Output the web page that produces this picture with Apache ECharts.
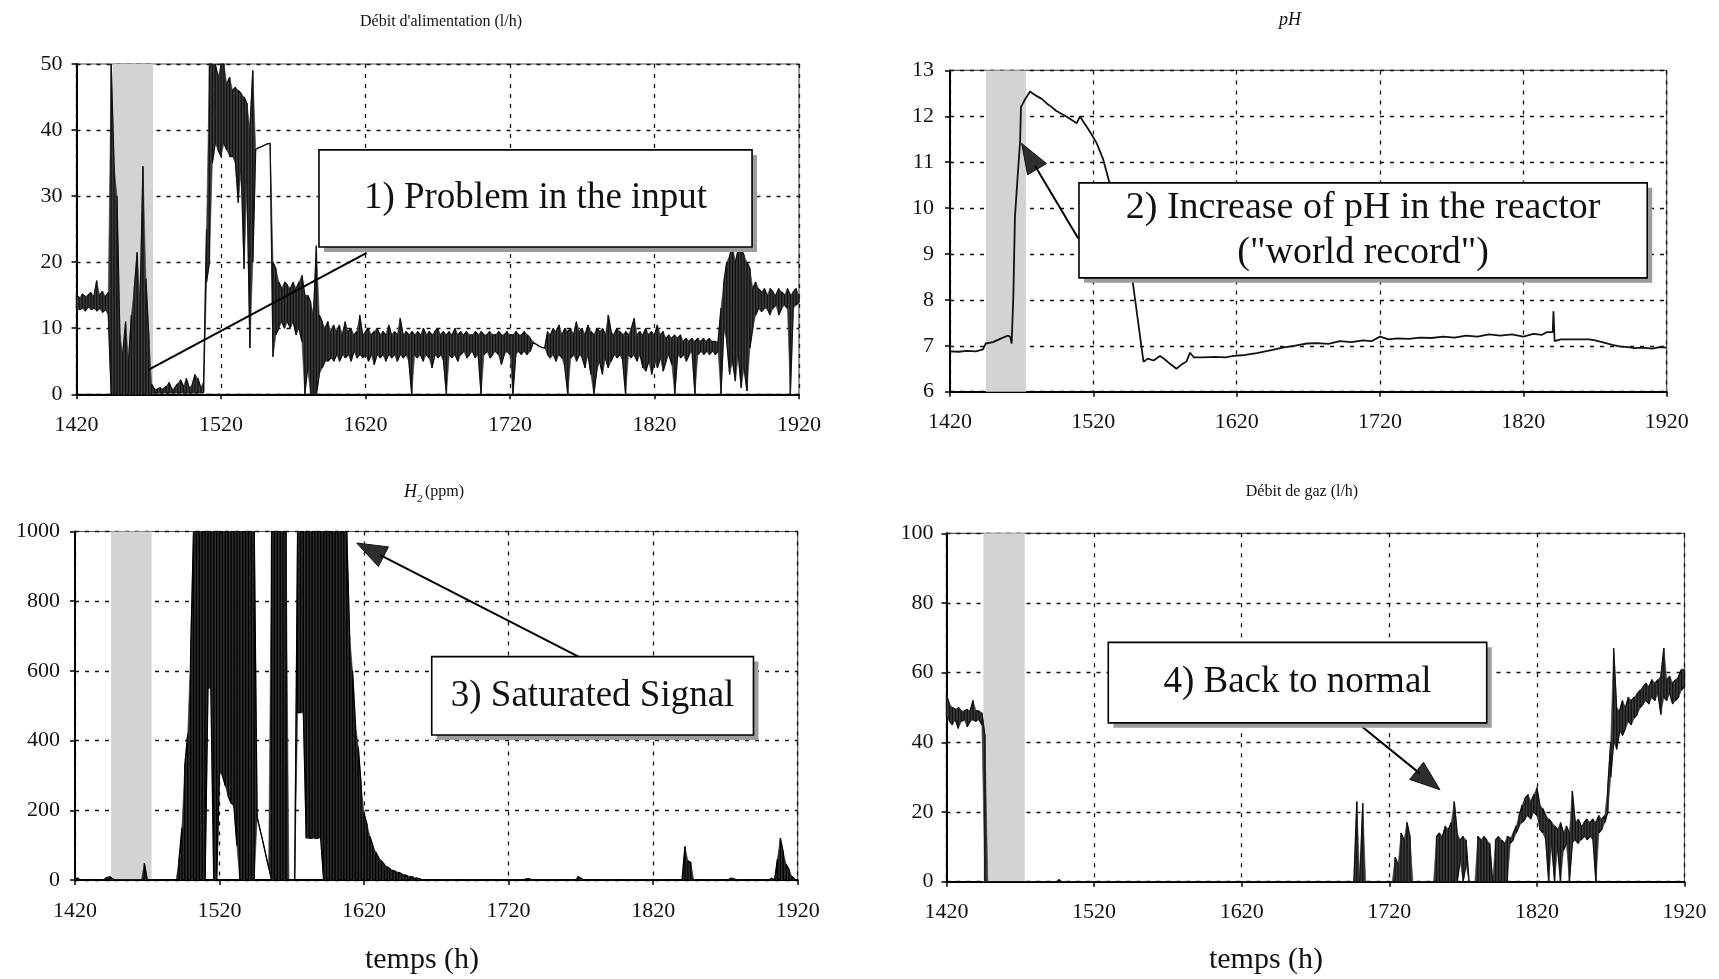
<!DOCTYPE html>
<html><head><meta charset="utf-8">
<script src="https://cdn.jsdelivr.net/npm/echarts@6.0.0/dist/echarts.min.js"></script>
<style>html,body{margin:0;padding:0;background:#fff}#c{width:1719px;height:979px}</style>
</head><body><div id="c"></div><script>
// ---- time base (2-hour samples from 1420 h to 1920 h) ----
const T0 = 1420, STEP = 2;
const xTicks = {min:1420, max:1920, interval:100};
const bandStart = 1445, bandEnd = 1473;

// ---- Débit d'alimentation (l/h): low / high envelope of the noisy signal ----
const feedLo = [
13,12.8,13,12.6,13.2,12.8,13,12.6,13,12.4,
12.8,12,0,0,0,0,0,0,0,0,
0,0,0,0,0,0,0,0.2,0.2,0.2,
0.2,0.2,0.2,0.2,0.2,0.2,0.2,0.2,0.2,0.2,
0.2,0.2,0.2,0.2,0.3,17,20,35,38,37,
36,38,37,36,36,35,29,34,19,32,
7,20,37.1,37.3,37.5,37.7,37.9,38,5.7,9,
10,11,10,11,10,11,9,10,8,0,
4,0,0,0,3,4,5,5,5.5,5,
6,5,6,5.5,6,5,6.5,5.5,6,5.5,
6,5,6,4.5,6,5.5,6,5,6,5.5,
6,5,6,5.5,6,5,0,6,5.5,6,
5,6,5.5,4,6,5.5,6,5,0,6,
5.5,6,5,6,6.5,5.5,6,6.5,5.5,6,
0,6,6.5,5.5,6,6.5,6,4.5,6,6.5,
6,0,6,6.5,6,6.5,6,6.5,7.8,7.6,
7.3,7.1,7,6,5.5,6,5,6,5.5,4,
0,5.5,6,5,6,5.5,4,6,3,0,
3.5,5,3,5.5,4,5,6,5.5,6,5,
0,6,5.5,6,5,6,4,3.5,5,3,
5,4,5.5,3.5,5,6,4.5,0,6,5.5,
6,5,6,6.5,0,6,6.5,6,6.5,6,
6.5,6,6.5,0,10,8,3,5,2,6,
1,4,0.5,7,10,12,13,12.5,13,13,
12,13,13.5,12,13,13.5,13,0,13,13.5,
14];
const feedHi = [
15,14.6,15.2,14.8,15,15.4,14.8,17.2,15,15.6,
14.8,15.4,50,34.5,30,9,6,11,5,12,
16,21.5,14,34.5,17.5,9,1.5,0.8,0.8,1,
0.8,1.2,1.8,0.8,1,1.6,2.2,1.2,2.4,1,
1.4,3,2.4,1,2,25,50,50,50,48,
50,50,47,48,46,46.5,46,45.5,45,44,
40,49,37.1,37.3,37.5,37.7,37.9,38,20,19,
17,16,17,16.5,16,17,16,17,18,15,
15,14,12,22.5,12,11,10,11,9.5,10.5,
9.5,10.5,9,11,9.5,10,9,9.5,12,9,
9.5,10,9,9.5,10,9,9.5,9,10.5,9,
9.5,9,11.5,9,9.5,9,9.5,9,9.5,9,
10,9,9.5,9,9.5,10,9,9.5,9,9.5,
9,10,9,9.5,9,9.5,9,9,9.5,9,
9.5,9,9,9.5,9,9,9.5,9,9,9.5,
9,9,9.5,9,9,9.5,9,8.5,8,7.6,
7.3,7.1,7,9.5,9,10,9.5,10.5,9,10,
9.5,10,9,11,9.5,10,9,10.5,9.5,9,
10,9.5,10,9,12,9.5,9,10,9.5,9,
9.5,9,10,11.5,9,9.5,9,10,9,9.5,
9,10.5,9,9.5,8.5,9,8.5,9,8.5,9,
8,8.5,8,8.5,8,8.5,8,8.5,8,8.5,
8,8,8,13,17,20,21,22.5,20,22,
22,21,20,19,16,17,16,15.5,16,15,
16,15.5,15,16,15.5,15,16,15,15.5,16,
15];

// ---- pH (smooth signal, read point by point) ----
const phT = [1420,1426,1432,1438,1443,1445,1450,1455,1460,1462,1463,1464.2,1465.3,1467,1468.9,
1469.5,1472,1475.8,1480,1484,1487.5,1491,1494,1498,1501.4,1505,1508.4,1510.7,1513,1515.4,
1518.5,1522.4,1527,1531.7,1540,1547,1555,1558,1562,1566.5,1570,1573,1576,1578,1581,
1585,1587.5,1590,1596,1605,1612,1618,1626,1634,1645,1652,1660,1669,1676,1684,
1692,1700,1708,1714,1720,1726,1732,1740,1748,1756,1764,1772,1780,1788,1796,
1804,1812,1820,1827,1833,1836.6,1840.5,1841,1841.8,1846,1852,1860,1866,1870,1875,
1882,1888,1893,1897.6,1903,1910,1915,1920];
const phV = [6.88,6.87,6.89,6.88,6.92,7.05,7.08,7.15,7.22,7.2,7.05,8.1,9.8,10.6,11.45,
12.2,12.35,12.54,12.45,12.38,12.28,12.2,12.12,12.05,11.99,11.92,11.85,12.0,11.88,11.77,
11.62,11.41,11.05,10.5,9.3,8.5,6.65,6.72,6.68,6.78,6.7,6.62,6.55,6.5,6.58,
6.66,6.85,6.75,6.75,6.76,6.75,6.78,6.8,6.84,6.91,6.96,7.0,7.05,7.06,7.04,
7.1,7.08,7.12,7.1,7.2,7.14,7.16,7.15,7.18,7.17,7.2,7.18,7.22,7.2,7.25,
7.22,7.25,7.2,7.26,7.24,7.3,7.3,7.75,7.1,7.14,7.14,7.14,7.14,7.12,7.08,
7.02,6.98,6.97,6.95,6.96,6.94,6.97,6.96];

// ---- H2 (ppm): low / high envelope ----
const h2Lo = [
0,0,0,0,0,0,0,0,0,0,
0,0,0,0,0,0,0,0,0,0,
0,0,0,0,0,0,0,0,0,0,
0,0,0,0,0,0,0,0,0,0,
0,0,0,0,0,0,550,550,0,0,
310,300,270,240,220,210,100,0,0,0,
0,0,0,180,145,110,72,36,0,0,
0,0,0,0,0,0,0,480,480,480,
120,120,120,120,120,120,0,0,0,0,
0,0,0,0,0,0,0,0,0,0,
0,0,0,0,0,0,0,0,0,0,
0,0,0,0,0,0,0,0,0,0,
0,0,0,0,0,0,0,0,0,0,
0,0,0,0,0,0,0,0,0,0,
0,0,0,0,0,0,0,0,0,0,
0,0,0,0,0,0,0,0,0,0,
0,0,0,0,0,0,0,0,0,0,
0,0,0,0,0,0,0,0,0,0,
0,0,0,0,0,0,0,0,0,0,
0,0,0,0,0,0,0,0,0,0,
0,0,0,0,0,0,0,0,0,0,
0,0,0,0,0,0,0,0,0,0,
0,0,0,0,0,0,0,0,0,0,
0,0,0,0,0,0,0,0,0,0,
0,0,0,0,0,0,0,0,0,0,
0];
const h2Hi = [
5,6,1,1,1,1,1,1,1,1,
1,8,10,3,0.5,0.5,0.5,0.5,0.5,0.5,
0.5,0.5,0.5,0.5,48,0.5,0.5,0.5,0.5,0.5,
0.5,0.5,0.5,0.5,0.5,0.5,60,150,330,420,
650,1000,1000,1000,1000,1000,1000,1000,1000,1000,
1000,1000,1000,1000,1000,1000,1000,1000,1000,1000,
1000,1000,1000,180,145,110,72,36,1000,1000,
1000,1000,1000,1000,0,0,0,1000,1000,1000,
1000,1000,1000,1000,1000,1000,1000,1000,1000,1000,
1000,1000,1000,1000,1000,700,600,450,380,270,
190,160,125,100,80,65,55,45,38,32,
28,24,22,18,15,12,10,8,6,4,
2,0.5,0.5,0.5,0.5,0.5,0.5,0.5,0.5,0.5,
0.5,0.5,0.5,0.5,0.5,0.5,0.5,0.5,0.5,0.5,
0.5,0.5,0.5,0.5,0.5,0.5,0.5,0.5,0.5,0.5,
0.5,0.5,0.5,0.5,0.5,0.5,5,4,0.5,0.5,
0.5,0.5,0.5,0.5,0.5,0.5,0.5,0.5,0.5,0.5,
0.5,0.5,0.5,0.5,10,5,0.5,0.5,0.5,0.5,
0.5,0.5,0.5,0.5,0.5,0.5,0.5,0.5,0.5,0.5,
0.5,0.5,0.5,0.5,0.5,0.5,0.5,0.5,0.5,0.5,
0.5,0.5,0.5,0.5,0.5,0.5,0.5,0.5,0.5,0.5,
0.5,96,55,50,0.5,0.5,0.5,0.5,0.5,0.5,
0.5,0.5,0.5,0.5,0.5,0.5,0.5,6,5,0.5,
0.5,0.5,0.5,0.5,0.5,0.5,0.5,0.5,0.5,0.5,
0.5,5,0.5,60,120,80,45,30,10,2,
0];

// ---- Débit de gaz (l/h): low / high envelope ----
const gasLo = [
48,46,45,46.5,44,46,46.5,44.5,46,46.5,
46,46.5,45,0,0,0,0,0,0,0,
0,0,0,0,0,0,0,0,0,0,
0,0,0,0,0,0,0,0,0,0,
0,0,0,0,0,0,0,0,0,0,
0,0,0,0,0,0,0,0,0,0,
0,0,0,0,0,0,0,0,0,0,
0,0,0,0,0,0,0,0,0,0,
0,0,0,0,0,0,0,0,0,0,
0,0,0,0,0,0,0,0,0,0,
0,0,0,0,0,0,0,0,0,0,
0,0,0,0,0,0,0,0,0,0,
0,0,0,0,0,0,0,0,0,0,
0,0,0,0,0,0,0,0,0,0,
0,0,0,0,0,0,0,0,0,0,
0,0,0,0,0,0,0,0,0,0,
0,0,0,0,0,0,0,0,0,0,
0,0,0,0,6,0,5,0,0,0,
0,0,0,0,0,0,0,0,0,0,
0,11,12,14,16,17,18,19,18,20,
19,15,14,12,0,11,0,10,0,9,
11,0,11,12,11,12,13,12,13,12,
0,14,15,17,20,30,40,38,43,42,
44,46,45,47,48,50,51,52,51,53,
52,54,48,53,52,54,51,52,53,55,
56];
const gasHi = [
53.5,51,50,49.5,50,49,49,49.5,49,52,
49,49,48.5,42,0,0,0,0,0,0,
0,0,0,0,0,0,0,0,0,0,
0,0,0,0,0,0,0,0,0.6,0,
0,0,0,0,0,0,0,0,0,0,
0,0,0,0,0,0,0,0,0,0,
0,0,0,0,0,0,0,0,0,0,
0,0,0,0,0,0,0,0,0,0,
0,0,0,0,0,0,0,0,0,0,
0,0,0,0,0,0,0,0,0,0,
0,0,0,0,0,0,0,0,0,0,
0,0,0,0,0,0,0,0,0,0,
0,0,0,0,0,0,0,0,0,0,
0,0,0,0,0,0,0,0,0,23,
0,22.5,0,0,0,0,0,0,0,0,
0,0,7,5,14,12,17,13,0,0,
0,0,0,0,0,0,13,14,13,16,
15,17,23,14,12,13,12,0,0,0,
13,12,13,12,11,0,12,13,12,11,
13,12.5,14,16,19,22,24,25,23,25,
27,22,21,19,18,17,16,15,17,14,
16,14,26,17,18,16,17,18,17,18,
17,19,18,19,27,40,67,50,49,52,
50,53,52,53,54,55,56,57,56,58,
57,58,59,67,58,59,57,58,59,61,
61];

// ---- annotations, anchored in data coordinates ----
const boxes = [
  {g:0, t1:1587.8, t2:1887.5, v1:37.0, v2:22.3, lines:['1) Problem in the input'], fs:37},
  {g:1, t1:1510, t2:1906.4, v1:10.55, v2:8.48, lines:['2) Increase of pH in the reactor','("world record")'], fs:38, lh:45},
  {g:2, t1:1666.8, t2:1889.4, v1:641, v2:416, lines:['3) Saturated Signal'], fs:37},
  {g:3, t1:1529.6, t2:1786, v1:68.7, v2:45.6, lines:['4) Back to normal'], fs:37}
];
const arrows = [
  {g:0, from:[1620.8,21.4], to:[1469.7,3.7], head:false},
  {g:1, from:[1509.5,9.34], to:[1470,11.41], head:true},
  {g:2, from:[1768.3,641], to:[1614.9,967], head:true},
  {g:3, from:[1696.8,46.1], to:[1754.3,26.4], head:true}
];

const FONT = '"Liberation Serif","Times New Roman",Times,serif';
const grids = [
  {left:76.5, top:64, width:722.5, height:330.3},
  {left:950, top:70.4, width:716.7, height:321.3},
  {left:75, top:531.5, width:722.7, height:348.5},
  {left:946.5, top:533.3, width:738, height:348.4}
];
const yCfg = [
  {min:0, max:50, interval:10, margin:14},
  {min:6, max:13, interval:1, margin:16},
  {min:0, max:1000, interval:200, margin:15},
  {min:0, max:100, interval:20, margin:13}
];

// square-wave path through the low/high envelope samples
function envelope(lo, hi){
  const out = [];
  for (let i = 0; i < lo.length; i++){
    const t = T0 + STEP*i;
    if (i % 2 === 0){ out.push([t, lo[i]], [t, hi[i]]); }
    else { out.push([t, hi[i]], [t, lo[i]]); }
  }
  return out;
}
// filled band between the low and high envelopes (drawn through the axes' scales)
function bandSeries(gi, lo, hi, color){
  const data = lo.map((v,i) => [T0+STEP*i, v, hi[i]]);
  return {
    type:'custom', xAxisIndex:gi, yAxisIndex:gi, z:2, silent:true, animation:false, clip:true,
    data:data, encode:{x:0, y:[1,2]},
    renderItem:function(params, api){
      const i = params.dataIndex;
      if (i >= data.length-1) return;
      const a = data[i], b = data[i+1];
      const pts = [api.coord([a[0],a[1]]), api.coord([b[0],b[1]]), api.coord([b[0],b[2]]), api.coord([a[0],a[2]])];
      return {type:'polygon', shape:{points:pts}, style:{fill:color, stroke:color, lineWidth:0.6}};
    }
  };
}

const band = {silent:true, itemStyle:{color:'#d3d3d3'}, data:[[{xAxis:bandStart},{xAxis:bandEnd}]]};
const lineBase = {type:'line', showSymbol:false, symbol:'none', animation:false, z:3, clip:true};
const fmt = v => String(v);

const chart = echarts.init(document.getElementById('c'), null, {renderer:'canvas'});
const option = {
  backgroundColor:'#fff',
  animation:false,
  grid: grids.map(g => Object.assign({show:true, borderColor:'#555', borderWidth:1.2, backgroundColor:'transparent'}, g)),
  xAxis: grids.map((g,i) => ({
    gridIndex:i, type:'value', min:xTicks.min, max:xTicks.max, interval:xTicks.interval,
    axisLine:{show:true, onZero:false, lineStyle:{color:'#000', width:2}},
    axisTick:{show:true, length:5, lineStyle:{color:'#000', width:1.5}},
    axisLabel:{margin:20, fontFamily:FONT, fontSize:22, color:'#111', formatter:fmt},
    splitLine:{show:true, lineStyle:{color:'#111', type:[4,6], width:1.3}}
  })),
  yAxis: yCfg.map((c,i) => ({
    gridIndex:i, type:'value', min:c.min, max:c.max, interval:c.interval,
    axisLine:{show:true, onZero:false, lineStyle:{color:'#000', width:2}},
    axisTick:{show:true, length:5, lineStyle:{color:'#000', width:1.5}},
    axisLabel:{margin:c.margin, fontFamily:FONT, fontSize:22, color:'#111', formatter:fmt},
    splitLine:{show:true, lineStyle:{color:'#111', type:[4,6], width:1.3}}
  })),
  series: [
    bandSeries(0, feedLo, feedHi, '#3a3a3a'),
    Object.assign({}, lineBase, {name:'feed', xAxisIndex:0, yAxisIndex:0, data:envelope(feedLo, feedHi),
      lineStyle:{color:'#111', width:1.3}, markArea:band}),
    Object.assign({}, lineBase, {name:'pH', xAxisIndex:1, yAxisIndex:1, data:phT.map((t,i)=>[t, phV[i]]),
      lineStyle:{color:'#111', width:1.8}, markArea:band}),
    bandSeries(2, h2Lo, h2Hi, '#2c2c2c'),
    Object.assign({}, lineBase, {name:'H2', xAxisIndex:2, yAxisIndex:2, data:envelope(h2Lo, h2Hi),
      lineStyle:{color:'#000', width:1.3}, markArea:band}),
    bandSeries(3, gasLo, gasHi, '#3a3a3a'),
    Object.assign({}, lineBase, {name:'gas', xAxisIndex:3, yAxisIndex:3, data:envelope(gasLo, gasHi),
      lineStyle:{color:'#111', width:1.3}, markArea:band})
  ]
};
chart.setOption(option);

function P(gi, t, v){ return chart.convertToPixel({gridIndex:gi}, [t, v]); }
function sty(s, size, align, italic){
  return {text:s, fontFamily:FONT, fontSize:size, fontStyle:italic?'italic':'normal', fill:'#111',
    align:align, verticalAlign:'middle', textAlign:align, textVerticalAlign:'middle'};
}
function txt(x, y, s, size, italic){ return {type:'text', z:30, x:x, y:y, style:sty(s, size, 'center', italic)}; }
const els = [];
// chart titles and axis names
els.push(txt(441, 22, "Débit d'alimentation (l/h)", 16));
els.push(txt(1290, 20, 'pH', 18, true));
els.push({type:'text', z:30, x:404, y:492, style:sty('H', 18, 'left', true)});
els.push({type:'text', z:30, x:417, y:499, style:sty('2', 11, 'left', true)});
els.push({type:'text', z:30, x:425, y:492, style:sty('(ppm)', 16, 'left', false)});
els.push(txt(1302, 492, 'Débit de gaz (l/h)', 16));
els.push(txt(422, 960, 'temps (h)', 30));
els.push(txt(1266, 960, 'temps (h)', 30));

// arrows
arrows.forEach(a => {
  const p0 = P(a.g, a.from[0], a.from[1]);
  const p1 = P(a.g, a.to[0], a.to[1]);
  let end = p1;
  if (a.head){
    const dx = p1[0]-p0[0], dy = p1[1]-p0[1], len = Math.hypot(dx, dy);
    const ux = dx/len, uy = dy/len, L = 30, W = 11;
    const bx = p1[0]-ux*L, by = p1[1]-uy*L;
    els.push({type:'polygon', z:24, shape:{points:[[p1[0],p1[1]],[bx-uy*W, by+ux*W],[bx+uy*W, by-ux*W]]},
      style:{fill:'#2e2e2e', stroke:'#111', lineWidth:1}});
    end = [bx + ux*4, by + uy*4];
  }
  els.push({type:'line', z:24, shape:{x1:p0[0], y1:p0[1], x2:end[0], y2:end[1]}, style:{stroke:'#000', lineWidth:2}});
});

// boxes
boxes.forEach(b => {
  const a = P(b.g, b.t1, b.v1), c = P(b.g, b.t2, b.v2);
  const x = a[0], y = a[1], w = c[0]-a[0], h = c[1]-a[1];
  els.push({type:'rect', z:25, shape:{x:x+5, y:y+5, width:w, height:h}, style:{fill:'#9c9c9c'}});
  els.push({type:'rect', z:26, shape:{x:x, y:y, width:w, height:h}, style:{fill:'#fff', stroke:'#000', lineWidth:1.6}});
  const n = b.lines.length, lh = b.lh || 45;
  b.lines.forEach((s,k) => { const e = txt(x+w/2, y+h/2+(k-(n-1)/2)*lh, s, b.fs); e.z = 27; els.push(e); });
});

chart.setOption({graphic:{elements:els}});
</script></body></html>
